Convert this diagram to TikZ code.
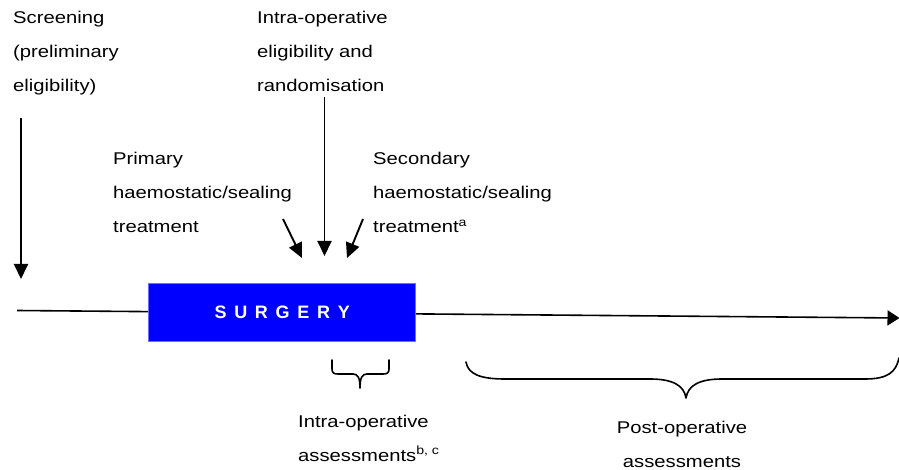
\documentclass[tikz,border=0pt]{standalone}
\usepackage{fontspec}
\setmainfont{Liberation Sans}[FakeStretch=1.19]
\newfontfamily\surgfont{Liberation Sans}
\usetikzlibrary{arrows.meta}
\definecolor{surgblue}{RGB}{0,0,255}
\definecolor{boxedge}{RGB}{110,110,255}
\begin{document}
\begin{tikzpicture}[x=1pt,y=-1pt,
  lbl/.style={anchor=base west, inner sep=0pt, font=\fontsize{17}{20}\selectfont},
  lblc/.style={anchor=base, inner sep=0pt, font=\fontsize{17}{20}\selectfont},
  arr/.style={line width=1.9pt, -{Triangle[length=15pt,width=14pt]}},
  brace/.style={line width=1.6pt, line join=round, line cap=round}
]
\useasboundingbox (0,0) rectangle (899,470);

% timeline
\coordinate (t0) at (17,310.5);
\coordinate (t1) at (899.5,318);
\draw[line width=1.6pt, -{Triangle[length=12pt,width=15pt]}] (t0) -- (t1);

% surgery box
\node[fill=surgblue, draw=boxedge, line width=0.8pt, minimum width=267pt,
      minimum height=58pt, inner sep=0pt] (surg) at (282.2,312.5)
  {\surgfont\bfseries\fontsize{18}{20}\selectfont\color{white}S\hspace{7.7pt}U\hspace{7.7pt}R\hspace{7.7pt}G\hspace{7.7pt}E\hspace{7.7pt}R\hspace{7.7pt}Y};

% screening
\node[lbl] (scr1) at (13,24) {Screening};
\node[lbl] (scr2) at (13,58) {(preliminary};
\node[lbl] (scr3) at (13,92) {eligibility)};
\coordinate (scrA) at (21,118);
\coordinate (scrB) at (21,279);
\draw[arr] (scrA) -- (scrB);

% intra-operative eligibility
\node[lbl] (ie1) at (257,24) {Intra-operative};
\node[lbl] (ie2) at (257,58) {eligibility and};
\node[lbl] (ie3) at (257,92) {randomisation};
\coordinate (ieA) at (324.5,97);
\coordinate (ieB) at (324.5,256);
\draw[arr] (ieA) -- (ieB);

% primary treatment
\node[lbl] (pr1) at (113,165) {Primary};
\node[lbl] (pr2) at (113,199) {haemostatic/sealing};
\node[lbl] (pr3) at (113,233) {treatment};
\coordinate (prA) at (283,219);
\coordinate (prB) at (302,258);
\draw[arr] (prA) -- (prB);

% secondary treatment
\node[lbl] (se1) at (373,165) {Secondary};
\node[lbl] (se2) at (373,199) {haemostatic/sealing};
\node[lbl] (se3) at (373,233) {treatment\textsuperscript{a}};
\coordinate (seA) at (363,219);
\coordinate (seB) at (347,258);
\draw[arr] (seA) -- (seB);

% intra-operative assessments brace
\draw[brace] (332,360) -- (332,369) .. controls (332,373) and (334,374) .. (338,374)
  -- (353,374) .. controls (358,374) and (360,378) .. (360,388)
  .. controls (360,378) and (362,374) .. (367,374)
  -- (383,374) .. controls (387,374) and (389,373) .. (389,369) -- (389,360);
\node[lbl] (ia1) at (298,427) {Intra-operative};
\node[lbl] (ia2) at (298,461) {assessments\textsuperscript{b, c}};

% post-operative assessments brace
\draw[brace] (466,362) .. controls (468,374) and (480,379) .. (505,379)
  -- (650,379) .. controls (672,379) and (684,385) .. (686,398)
  .. controls (688,385) and (700,379) .. (722,379)
  -- (865,379) .. controls (888,379) and (896,372) .. (899,358);
\node[lblc] (pa1) at (682,433) {Post-operative};
\node[lblc] (pa2) at (682,467) {assessments};
\end{tikzpicture}
\end{document}
